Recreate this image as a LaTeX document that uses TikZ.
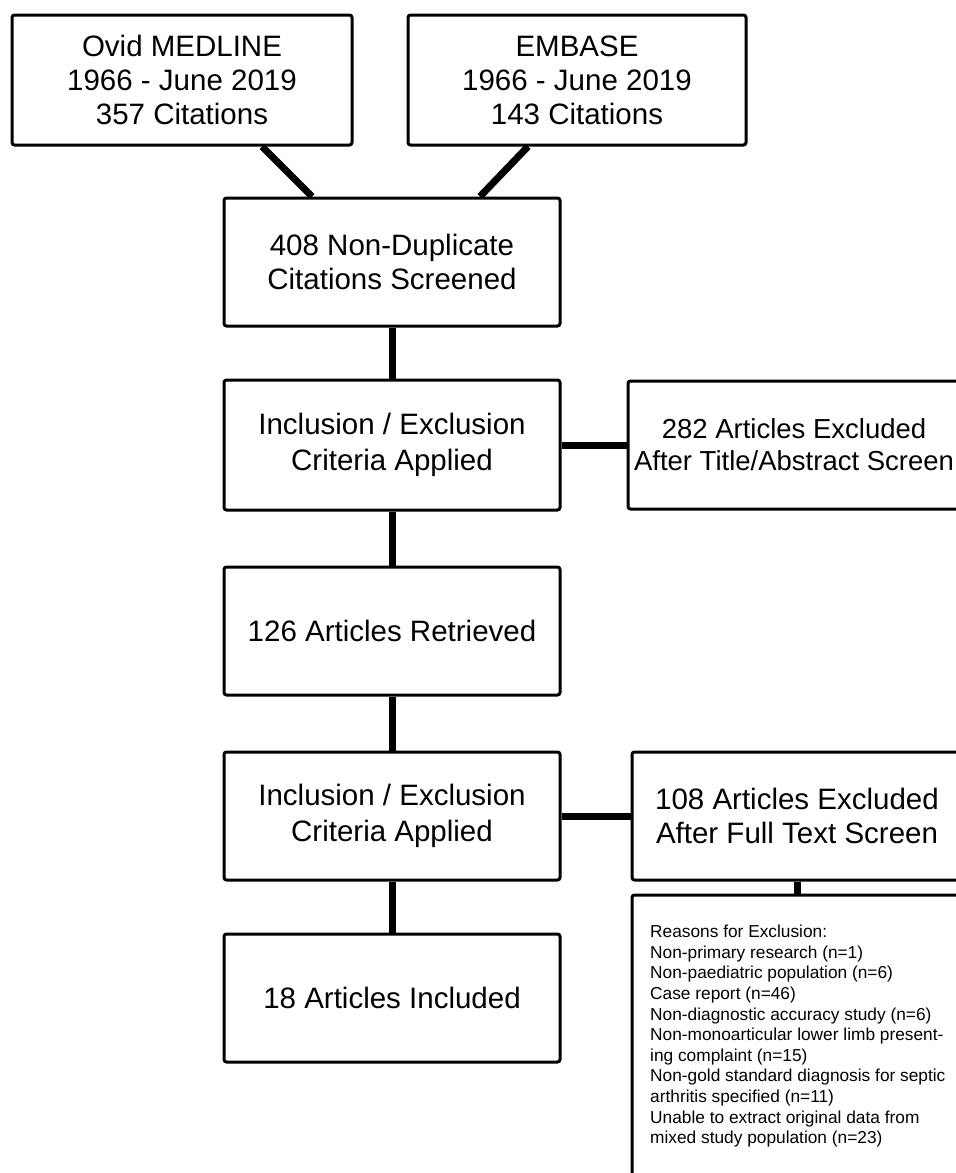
\documentclass[tikz,border=0pt]{standalone}
\usepackage{fontspec}
\setmainfont{Liberation Sans}
\begin{document}
\begin{tikzpicture}[x=1pt,y=-1pt,
  box/.style={draw, line width=3pt, rounded corners=2.5pt, align=center, inner sep=0pt,
    minimum width=336pt, minimum height=128pt, font=\fontsize{29.5}{34}\selectfont},
  incl/.style={box, font=\fontsize{29.5}{36}\selectfont},
  sidebox/.style={box, minimum width=332pt},
  link/.style={line width=7pt},
  small/.style={font=\fontsize{17.3}{20.6}\selectfont, align=left, inner sep=0pt, anchor=north west}]
\useasboundingbox (0,0) rectangle (956,1173);
\fill[white] (0,0) rectangle (956,1173);
\clip (0,0) rectangle (956,1173);
\node[box, minimum width=340pt, minimum height=130pt] (b1) at (182,80) {Ovid MEDLINE\\1966 - June 2019\\357 Citations};
\node[box, minimum width=338pt, minimum height=130pt] (b2) at (577,80) {EMBASE\\1966 - June 2019\\143 Citations};
\node[box] (b3) at (392,262) {408 Non-Duplicate\\Citations Screened};
\node[incl, minimum height=130pt] (b4) at (392,445) {Inclusion / Exclusion\\Criteria Applied};
\node[sidebox, minimum height=128pt, font=\fontsize{27.5}{32}\selectfont] (b5) at (794,445) {282 Articles Excluded\\After Title/Abstract Screen};
\node[box] (b6) at (392,631) {126 Articles Retrieved};
\node[incl] (b7) at (392,816) {Inclusion / Exclusion\\Criteria Applied};
\node[sidebox, minimum width=330pt] (b8) at (797,816) {108 Articles Excluded\\After Full Text Screen};
\node[draw, line width=3pt, rounded corners=2.5pt, minimum width=330pt, minimum height=300pt, inner sep=0pt] (b9) at (797,1045) {};
\node[small] (reasons) at (650,925) {Reasons for Exclusion:\\
Non-primary research (n=1)\\
Non-paediatric population (n=6)\\
Case report (n=46)\\
Non-diagnostic accuracy study (n=6)\\
Non-monoarticular lower limb present-\\
ing complaint (n=15)\\
Non-gold standard diagnosis for septic\\
arthritis specified (n=11)\\
Unable to extract original data from\\
mixed study population (n=23)};
\node[box] (b10) at (392,998) {18 Articles Included};
\draw[link] ([xshift=80pt]b1.south) -- ([xshift=-80pt]b3.north);
\draw[link] ([xshift=-49pt]b2.south) -- ([xshift=88pt]b3.north);
\draw[link] (b3.south) -- (b4.north);
\draw[link] (b4.east) -- (b5.west);
\draw[link] (b4.south) -- (b6.north);
\draw[link] (b6.south) -- (b7.north);
\draw[link] (b7.east) -- (b8.west);
\draw[link] (b8.south) -- (b9.north);
\draw[link] (b7.south) -- (b10.north);
\end{tikzpicture}
\end{document}
